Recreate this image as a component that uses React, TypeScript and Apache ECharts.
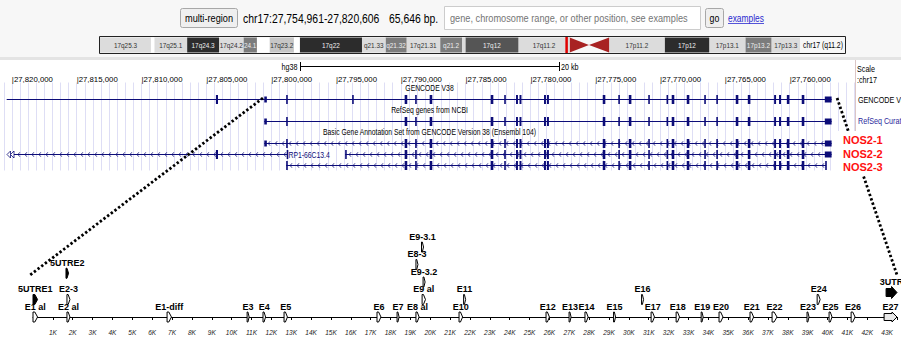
import React, { useEffect, useRef } from "react";
import * as echarts from "echarts";

const SANS = "'Liberation Sans', Arial, Helvetica, sans-serif";
const NX = 0.8; // horizontal squeeze of the browser's narrow lettering
const NAVY = "#0c0c78";
const GUIDE = "#dedef5";

// ---------------- header ----------------
const positionText = "chr17:27,754,961-27,820,606";
const sizeText = "65,646 bp.";
const searchHint = "gene, chromosome range, or other position, see examples";

// ---------------- ideogram (chr17, Mb) ----------------
const bandNames = ["17p13.3", "17p13.2", "17p13.1", "17p12", "17p11.2", "17p11.1", "17q11.1", "17q11.2", "17q12", "17q21.1", "17q21.2", "17q21.31", "17q21.32", "17q21.33", "17q22", "17q23.1", "17q23.2", "17q23.3", "17q24.1", "17q24.2", "17q24.3", "17q25.1", "17q25.2", "17q25.3"];
const bandStartMb = [0, 3.4, 6.5, 10.8, 16.1, 22.7, 25.1, 27.4, 33.5, 39.8, 40.2, 42.8, 46.8, 49.3, 52.1, 59.5, 60.2, 63.1, 64.6, 66.2, 69.1, 72.9, 76.8, 77.2];
const bandEndMb = [3.4, 6.5, 10.8, 16.1, 22.7, 25.1, 27.4, 33.5, 39.8, 40.2, 42.8, 46.8, 49.3, 52.1, 59.5, 60.2, 63.1, 64.6, 66.2, 69.1, 72.9, 76.8, 77.2, 83.26];
const bandStain = ["light", "mid", "light", "dark", "light", "acen", "acen", "light", "darkgray", "light", "mid", "light", "mid", "light", "dark", "white", "pale", "white", "mid", "light", "dark", "light", "white", "light"];
const bandLabels = ["17p13.3", "17p13.2", "17p13.1", "17p12", "17p11.2", "", "", "17q11.2", "17q12", "", "q21.2", "17q21.31", "q21.32", "q21.33", "17q22", "", "17q23.2", "", "24.1", "17q24.2", "17q24.3", "17q25.1", "", "17q25.3"];
const chromLengthMb = 83.26;
const chromCaption = "chr17 (q11.2)";

// ---------------- browser window ----------------
const viewStart = 27754961;
const viewEnd = 27820606;
const scaleTicks = [27760000, 27765000, 27770000, 27775000, 27780000, 27785000, 27790000, 27795000, 27800000, 27805000, 27810000, 27815000, 27820000];
const scaleBarKb = 20;
const trackRows = ["gencodeTitle", "gencode", "refseqTitle", "refseq", "basicTitle", "basic1", "basic2", "basic3"];
const trackTitles = ["GENCODE V38", "RefSeq genes from NCBI", "Basic Gene Annotation Set from GENCODE Version 38 (Ensembl 104)"];
const trackTitleRows = ["gencodeTitle", "refseqTitle", "basicTitle"];

// exons (genomic bp)
const rp1Exon = [27804100, 27804260];
const rp1EndExon = [27798740, 27798800];
const nos2Utr5Exon = [27800330, 27800529];
const nos2Exon2 = [27798720, 27798840];
const nos2AltExonA = [27793630, 27793750];
const nos2AltExonB = [27794170, 27794290];
const nos2CoreExons = [
  [27789500, 27789700], [27788770, 27788890], [27787570, 27787770], [27782860, 27783060],
  [27781900, 27782020], [27780960, 27781110], [27780690, 27780840], [27778800, 27778950],
  [27778570, 27778720], [27774220, 27774420], [27773100, 27773220], [27772210, 27772410],
  [27770790, 27770910], [27769420, 27769500], [27768900, 27769100], [27767740, 27767940],
  [27766470, 27766590], [27765540, 27765660], [27763960, 27764160], [27763030, 27763230],
  [27761050, 27761200], [27760670, 27760820], [27760020, 27760220], [27758870, 27759070],
];
const nos2Utr3Exon = [27756766, 27757290];
const nos2LastExonShort = [27757190, 27757260];

const transcripts = [
  { row: "gencode", start: 27756766, end: 27820400, cds: [rp1Exon, nos2Exon2, nos2AltExonA, ...nos2CoreExons], utr: [nos2Utr5Exon, nos2Utr3Exon], chevrons: false, label: "" },
  { row: "refseq", start: 27756766, end: 27800529, cds: [nos2Exon2, ...nos2CoreExons], utr: [nos2Utr5Exon, nos2Utr3Exon], chevrons: false, label: "" },
  { row: "basic1", start: 27756766, end: 27800529, cds: [nos2Exon2, ...nos2CoreExons], utr: [nos2Utr5Exon, nos2Utr3Exon], chevrons: true, label: "" },
  { row: "basic2", start: 27798770, end: 27845000, cds: [rp1Exon, rp1EndExon], utr: [], chevrons: true, label: "RP1-66C13.4" },
  { row: "basic2", start: 27756766, end: 27794290, cds: [nos2AltExonB, ...nos2CoreExons], utr: [nos2Utr3Exon], chevrons: true, label: "" },
  { row: "basic3", start: 27757190, end: 27798840, cds: [nos2Exon2, ...nos2CoreExons, nos2LastExonShort], utr: [], chevrons: true, label: "" },
];
const isoformLabels = ["NOS2-1", "NOS2-2", "NOS2-3"];

// ---------------- exon map (kb) ----------------
const exonNames = ["5UTRE1", "E1 al", "5UTRE2", "E2-3", "E2 al", "E1-diff", "E3", "E4", "E5", "E6", "E7", "E8 al", "E9 al", "E9-3.2", "E8-3", "E9-3.1", "E10", "E11", "E12", "E13", "E14", "E15", "E16", "E17", "E18", "E19", "E20", "E21", "E22", "E23", "E24", "E25", "E26", "E27", "3UTR"];
const exonStartK = [0.0, 0.0, 1.66, 1.71, 1.71, 6.75, 10.78, 11.58, 12.64, 17.32, 18.33, 19.28, 19.59, 19.64, 19.28, 19.56, 21.45, 21.68, 25.83, 26.99, 27.79, 29.23, 30.64, 31.12, 32.38, 33.64, 34.54, 36.1, 37.21, 38.97, 39.48, 40.08, 41.19, 42.85, 42.95];
const exonEndK = [0.23, 0.23, 1.79, 1.86, 1.86, 6.97, 10.88, 11.71, 12.81, 17.52, 18.43, 19.44, 19.76, 19.71, 19.36, 19.64, 21.63, 21.78, 26.0, 27.09, 27.95, 29.33, 30.72, 31.29, 32.55, 33.74, 34.74, 36.28, 37.46, 39.07, 39.63, 40.23, 41.39, 43.5, 43.5];
const exonTier = [1, 0, 2.5, 1, 0, 0, 0, 0, 0, 0, 0, 0, 1, 2, 3, 4, 0, 1, 0, 0, 0, 0, 1, 0, 0, 0, 0, 0, 0, 0, 1, 0, 0, 0, 1.4];
const exonKind = ["utr", "cds", "utr", "cds", "cds", "cds", "cds", "cds", "cds", "cds", "cds", "cds", "cds", "cds", "cds", "cds", "cds", "cds", "cds", "cds", "cds", "cds", "cds", "cds", "cds", "cds", "cds", "cds", "cds", "cds", "cds", "cds", "cds", "cdsArrow", "utrArrow"];

// zoom links: browser position -> exon map position
const linkGenomic = [27800633, 27756343];
const linkK = [-0.15, 43.5];
const linkTier = [2.4, 2.4];

function stainFill(s: string) {
  switch (s) {
    case "white": return "#ffffff";
    case "light": return "#dcdcdc";
    case "pale": return "#c6c6c6";
    case "mid": return "#7c7c7c";
    case "darkgray": return "#555555";
    case "dark": return "#2c2c2c";
    case "acen": return "#a82222";
  }
  return "#ddd";
}
function stainText(s: string) {
  return s === "mid" || s === "darkgray" || s === "dark" ? "#eeeeee" : "#333333";
}
const fmt = (v: number) => v.toLocaleString("en-US");

// narrow text element (custom series / graphic)
function ntext(text: string, x: number, y: number, o: any = {}, z?: number): any {
  const el: any = {
    type: "text", x, y, scaleX: NX, silent: true,
    style: { text, x: 0, y: 0, fill: "#000", fontSize: 9, fontFamily: SANS, align: "left", verticalAlign: "middle", ...o },
  };
  if (z !== undefined) el.z = z;
  return el;
}

function buildOption(): any {
  return {
    animation: false,
    backgroundColor: "#ffffff",
    grid: [
      { left: 100, right: 101, top: 37.5, height: 15 },
      { left: 4, right: 46, top: 82.5, height: 88 },
      { left: 33, right: 4, top: 229.5, height: 96.25 },
    ],
    xAxis: [
      { gridIndex: 0, type: "value", min: 0, max: chromLengthMb, inverse: true, show: false },
      {
        gridIndex: 1, type: "value", min: viewStart, max: viewEnd, inverse: true, position: "top", splitNumber: 13,
        axisLine: { show: false }, axisTick: { show: false },
        axisLabel: { customValues: scaleTicks, formatter: (v: number) => "|" + fmt(v), align: "left", margin: -1, fontSize: 7.8, fontFamily: SANS, color: "#000" },
        splitLine: { show: true, lineStyle: { color: GUIDE, width: 1 } },
        minorTick: { show: false, splitNumber: 8 },
        minorSplitLine: { show: true, lineStyle: { color: GUIDE, width: 1 } },
      },
      {
        gridIndex: 2, type: "value", min: 0, max: 43.5, interval: 1,
        axisLine: { show: true, lineStyle: { color: "#000", width: 1 } },
        axisTick: { show: true, length: 3, lineStyle: { color: "#000" } },
        axisLabel: { formatter: (v: number) => (v >= 1 && Number.isInteger(v) ? v + "K" : ""), fontSize: 6.5, fontStyle: "italic", fontFamily: SANS, color: "#222", margin: 3 },
        splitLine: { show: false },
      },
    ],
    yAxis: [
      { gridIndex: 0, type: "value", min: 0, max: 1, show: false },
      { gridIndex: 1, type: "category", data: trackRows, inverse: true, show: false },
      { gridIndex: 2, type: "value", min: -0.5, max: 5, show: false },
    ],
    series: [
      {
        type: "custom", xAxisIndex: 0, yAxisIndex: 0, silent: true,
        data: bandNames.map((_, i) => [bandStartMb[i], bandEndMb[i]]),
        renderItem: (params: any, api: any) => {
          const i = params.dataIndex;
          const a = api.coord([api.value(0), 0]);
          const b = api.coord([api.value(1), 1]);
          const xl = Math.min(a[0], b[0]);
          const xr = Math.max(a[0], b[0]);
          const yt = b[1];
          const yb = a[1];
          const st = bandStain[i];
          const children: any[] = [];
          if (st === "acen") {
            const isP = bandNames[i].indexOf("p") >= 0;
            const wideX = isP ? a[0] : b[0];
            const tipX = isP ? b[0] : a[0];
            children.push({ type: "polygon", shape: { points: [[wideX, yt], [tipX, (yt + yb) / 2], [wideX, yb]] }, style: { fill: stainFill(st) } });
          } else {
            children.push({ type: "rect", shape: { x: xl, y: yt, width: xr - xl, height: yb - yt }, style: { fill: stainFill(st) } });
          }
          if (bandLabels[i]) {
            children.push(ntext(bandLabels[i], (xl + xr) / 2, (yt + yb) / 2 + 0.5, { align: "center", fontSize: 8, fill: stainText(st) }));
          }
          return { type: "group", children };
        },
      },
      {
        type: "custom", xAxisIndex: 0, yAxisIndex: 0, silent: true, z: 3,
        data: [[viewStart / 1e6, viewEnd / 1e6]],
        renderItem: (params: any, api: any) => {
          const a = api.coord([api.value(0), 0]);
          const b = api.coord([api.value(1), 1]);
          const xl = Math.min(a[0], b[0]);
          const w = Math.max(1, Math.abs(a[0] - b[0]));
          return { type: "rect", shape: { x: xl, y: b[1] - 0.5, width: w, height: a[1] - b[1] + 1 }, style: { fill: "none", stroke: "#e00000", lineWidth: 1.5 } };
        },
      },
      {
        type: "custom", xAxisIndex: 1, yAxisIndex: 1, silent: true,
        data: trackTitles.map((_, i) => [(viewStart + viewEnd) / 2, trackRows.indexOf(trackTitleRows[i])]),
        renderItem: (params: any, api: any) => {
          const p = api.coord([api.value(0), api.value(1)]);
          return ntext(trackTitles[params.dataIndex], p[0], p[1], { align: "center", fontSize: 8.5 });
        },
      },
      {
        type: "custom", xAxisIndex: 1, yAxisIndex: 1, silent: true,
        data: transcripts.map((t) => [t.start, t.end, trackRows.indexOf(t.row)]),
        renderItem: (params: any, api: any) => {
          const t = transcripts[params.dataIndex];
          const cs = params.coordSys;
          const row = api.value(2);
          const pa = api.coord([api.value(0), row]);
          const pb = api.coord([api.value(1), row]);
          const y = Math.round(pa[1]) + 0.5;
          let left = Math.max(cs.x, Math.min(pa[0], pb[0]));
          const right = Math.min(cs.x + cs.width, Math.max(pa[0], pb[0]));
          const children: any[] = [];
          const clipped = Math.min(pa[0], pb[0]) < cs.x;
          if (clipped) {
            for (let k = 0; k < 2; k++) {
              const x0 = left + 3 + k * 3.5;
              children.push({ type: "polygon", shape: { points: [[x0 + 3.5, y - 3.5], [x0, y], [x0 + 3.5, y + 3.5]] }, style: { fill: "#fff", stroke: NAVY, lineWidth: 0.8 } });
            }
            left = left + 10;
          }
          children.push({ type: "line", shape: { x1: left, y1: y, x2: right, y2: y }, style: { stroke: NAVY, lineWidth: 1 } });
          if (t.chevrons) {
            for (let x = left + 4; x < right - 3; x += 7) {
              children.push({ type: "polyline", shape: { points: [[x + 1.8, y - 2.2], [x, y], [x + 1.8, y + 2.2]] }, style: { stroke: NAVY, lineWidth: 0.8, fill: "none" } });
            }
          }
          const addExon = (ex: number[], h: number) => {
            const x1 = api.coord([ex[0], row])[0];
            const x2 = api.coord([ex[1], row])[0];
            const xl = Math.min(x1, x2);
            const w = Math.max(1.6, Math.abs(x2 - x1));
            if (xl + w < cs.x || xl > cs.x + cs.width) return;
            children.push({ type: "rect", shape: { x: xl, y: y - h / 2, width: w, height: h }, style: { fill: NAVY } });
          };
          t.utr.forEach((ex: number[]) => addExon(ex, 6));
          t.cds.forEach((ex: number[]) => addExon(ex, 9));
          if (t.label) {
            children.push(ntext(t.label, right + 1.5, y + 0.5, { fontSize: 8.5, fill: NAVY }));
          }
          return { type: "group", children };
        },
      },
      {
        type: "custom", xAxisIndex: 2, yAxisIndex: 2, silent: true,
        data: exonNames.map((_, i) => [exonStartK[i], exonEndK[i], exonTier[i]]),
        renderItem: (params: any, api: any) => {
          const i = params.dataIndex;
          const a = api.coord([api.value(0), api.value(2)]);
          const b = api.coord([api.value(1), api.value(2)]);
          const y = a[1];
          const x0 = a[0];
          const x1 = Math.max(b[0], x0 + 2);
          const w = x1 - x0;
          const kind = exonKind[i];
          let pts: number[][];
          let fill = "#ffffff";
          if (kind === "cdsArrow" || kind === "utrArrow") {
            const big = kind === "utrArrow";
            const head = Math.min(big ? 5.5 : 5, w * 0.5);
            const bh = big ? 4 : 3.5;
            const hh = big ? 6 : 5;
            pts = [[x0, y - bh], [x1 - head, y - bh], [x1 - head, y - hh], [x1, y], [x1 - head, y + hh], [x1 - head, y + bh], [x0, y + bh]];
            fill = big ? "#000000" : "#e8e8e8";
          } else {
            const k = x0 + w * 0.4;
            pts = [[x0, y - 5], [k, y - 5], [x1, y], [k, y + 5], [x0, y + 5]];
            fill = kind === "utr" ? "#000000" : "#ffffff";
          }
          return {
            type: "group",
            children: [
              { type: "polygon", shape: { points: pts }, style: { fill, stroke: "#000", lineWidth: 1 } },
              { type: "text", style: { text: exonNames[i], x: (x0 + x1) / 2, y: y - 10.5, align: "center", verticalAlign: "middle", fontSize: 9, fontWeight: "bold", fontFamily: SANS, fill: "#000" } },
            ],
          };
        },
      },
    ],
  };
}

function buildGraphic(chart: any): any[] {
  const els: any[] = [];
  const txt = (text: string, x: number, y: number, o: any = {}) => ntext(text, x, y, o, 30);
  // header
  els.push({ type: "rect", z: 0, silent: true, shape: { x: 0, y: 0, width: 901, height: 57 }, style: { fill: "#f7f7f7" } });
  els.push({ type: "rect", z: 0, silent: true, shape: { x: 0, y: 57, width: 901, height: 3 }, style: { fill: "#e4e4e4" } });
  els.push({ type: "rect", z: 10, silent: true, shape: { x: 180.5, y: 8.5, width: 57, height: 19, r: 2 }, style: { fill: "#efefef", stroke: "#a8a8a8", lineWidth: 1 } });
  els.push(txt("multi-region", 209, 18, { align: "center", fontSize: 11.5 }));
  els.push(txt(positionText, 243, 18, { fontSize: 13 }));
  els.push(txt(sizeText, 389, 18, { fontSize: 13 }));
  els.push({ type: "rect", z: 10, silent: true, shape: { x: 444.5, y: 6.5, width: 256, height: 23 }, style: { fill: "#ffffff", stroke: "#cccccc", lineWidth: 1 } });
  els.push(txt(searchHint, 450, 18, { fontSize: 11.5, fill: "#757575" }));
  els.push({ type: "rect", z: 10, silent: true, shape: { x: 705.5, y: 8.5, width: 18, height: 19, r: 2 }, style: { fill: "#efefef", stroke: "#a8a8a8", lineWidth: 1 } });
  els.push(txt("go", 714.5, 18, { align: "center", fontSize: 11 }));
  els.push(txt("examples", 728, 18, { fontSize: 10.5, fill: "#2a2ad0" }));
  els.push({ type: "line", z: 30, silent: true, shape: { x1: 728, y1: 23.5, x2: 764, y2: 23.5 }, style: { stroke: "#2a2ad0", lineWidth: 0.8 } });
  // ideogram frame & caption
  els.push({ type: "rect", z: 10, silent: true, shape: { x: 99.5, y: 36.5, width: 746, height: 17 }, style: { fill: "none", stroke: "#222", lineWidth: 1 } });
  els.push(txt(chromCaption, 803, 45, { fontSize: 8.5 }));

  // scale bar
  const c = (viewStart + viewEnd) / 2;
  const xa = chart.convertToPixel({ xAxisIndex: 1 }, c + scaleBarKb * 500);
  const xb = chart.convertToPixel({ xAxisIndex: 1 }, c - scaleBarKb * 500);
  const sl = Math.round(Math.min(xa, xb)) + 0.5;
  const sr = Math.round(Math.max(xa, xb)) + 0.5;
  els.push({ type: "line", z: 30, silent: true, shape: { x1: sl, y1: 66.5, x2: sr, y2: 66.5 }, style: { stroke: "#000", lineWidth: 1 } });
  els.push({ type: "line", z: 30, silent: true, shape: { x1: sl, y1: 62, x2: sl, y2: 71 }, style: { stroke: "#000", lineWidth: 1 } });
  els.push({ type: "line", z: 30, silent: true, shape: { x1: sr, y1: 62, x2: sr, y2: 71 }, style: { stroke: "#000", lineWidth: 1 } });
  els.push(txt("hg38", sl - 3, 67, { align: "right", fontSize: 9 }));
  els.push(txt(scaleBarKb + " kb", sr + 1.5, 67, { fontSize: 9 }));

  // right label column
  els.push({ type: "line", z: 30, silent: true, shape: { x1: 855.5, y1: 60, x2: 855.5, y2: 171 }, style: { stroke: "#dcc6c6", lineWidth: 1 } });
  els.push(txt("Scale", 857, 69));
  els.push(txt(":chr17", 857, 80));
  els.push(txt("GENCODE V38", 858, 100));
  els.push(txt("RefSeq Curated", 858, 121, { fill: "#2a2a9c" }));

  // zoom links
  const gRow = trackRows.indexOf("gencode");
  for (let i = 0; i < linkGenomic.length; i++) {
    const p = chart.convertToPixel({ gridIndex: 1 }, [linkGenomic[i], gRow]);
    const q = chart.convertToPixel({ gridIndex: 2 }, [linkK[i], linkTier[i]]);
    els.push({ type: "line", z: 40, silent: true, shape: { x1: p[0], y1: p[1] - 1, x2: q[0], y2: q[1] }, style: { stroke: "#000", lineWidth: 2.8, lineDash: [2.4, 2.2] } });
  }

  // isoform labels
  els.push({ type: "rect", z: 45, silent: true, shape: { x: 838, y: 131, width: 63, height: 44 }, style: { fill: "#ffffff" } });
  isoformLabels.forEach((l, i) => {
    els.push({ type: "text", z: 46, silent: true, style: { text: l, x: 843, y: 140 + i * 13.5, fill: "#ff1010", fontSize: 11, fontWeight: "bold", fontFamily: SANS, align: "left", verticalAlign: "middle" } });
  });
  return els;
}

export default function App() {
  const ref = useRef<HTMLDivElement>(null);
  useEffect(() => {
    if (!ref.current) return;
    const chart = echarts.init(ref.current, null, { renderer: "svg" });
    chart.setOption(buildOption());
    chart.setOption({ graphic: { elements: buildGraphic(chart) } });
    return () => chart.dispose();
  }, []);
  return <div ref={ref} style={{ position: "fixed", left: 0, top: 0, width: 901, height: 338, background: "#fff" }} />;
}
